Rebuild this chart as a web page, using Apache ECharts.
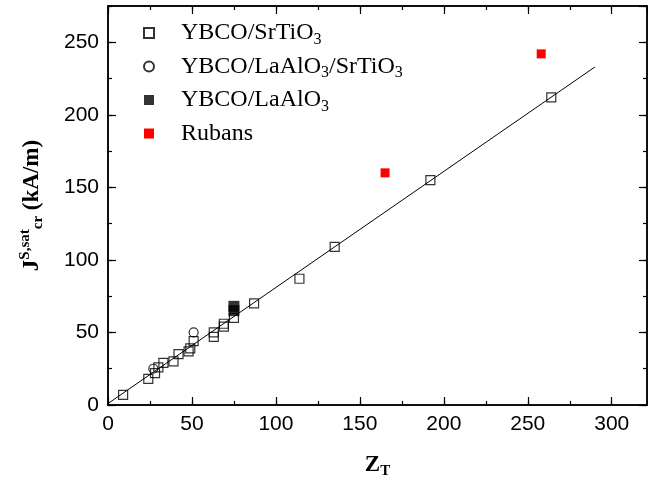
<!DOCTYPE html>
<html>
<head>
<meta charset="utf-8">
<script src="https://cdn.jsdelivr.net/npm/echarts@6/dist/echarts.min.js"></script>
<style>
  html, body { margin: 0; padding: 0; background: #fff; }
  #main { width: 648px; height: 490px; }
</style>
</head>
<body>
<div id="main"></div>
<script>
var chartDom = document.getElementById('main');
var myChart = echarts.init(chartDom);

// 数据：从图上读出来的 (Z_T, J)
var srtio3Pts = [
  [9, 7], [24, 18], [28, 22], [30, 26], [33, 29], [39, 30], [42, 35],
  [48, 37], [49, 39], [51, 44], [63, 47], [63, 50], [69, 54], [69, 56],
  [75, 60], [87, 70], [114, 87], [135, 109], [192, 155], [264, 212]
];
var laalSrtiPts = [[27, 25], [51, 50]];
var laalPts = [[75, 65], [75, 68]];
var rubansPts = [[165, 160], [258, 242]];
var fitLine = [[0, 1], [290, 233]];

var legendNames = ['YBCO/SrTiO3', 'YBCO/LaAlO3/SrTiO3', 'YBCO/LaAlO3', 'Rubans'];
var xTicks = { min: 0, max: 321, major: 50, minor: 25 };
var yTicks = { min: 0, max: 275, major: 50, minor: 25 };

var serif = 'Liberation Serif';
var sans = 'Liberation Sans';
var axisLineStyle = { color: '#000', width: 1.5 };

// 把下标 3 换成富文本
function subFmt(name) {
  return name.replace(/O3/g, 'O{s|3}');
}

function makeAxis(range, pos, interval, tickLen, withLabel) {
  return {
    type: 'value', position: pos, min: range.min, max: range.max, interval: interval,
    axisLine: { show: true, onZero: false, lineStyle: axisLineStyle },
    axisTick: { show: true, inside: true, length: tickLen, lineStyle: { color: '#000', width: 1.2 } },
    axisLabel: withLabel ? {
      show: true, showMaxLabel: false, color: '#000', fontFamily: sans, fontSize: 21, margin: 9
    } : { show: false },
    splitLine: { show: false }
  };
}

var xMain = makeAxis(xTicks, 'bottom', xTicks.major, 8, true);
xMain.name = 'Z{sb|T}';
xMain.nameLocation = 'middle';
xMain.nameGap = 47;
xMain.nameTextStyle = {
  fontFamily: serif, fontWeight: 'bold', fontSize: 23, color: '#000',
  rich: { sb: { fontFamily: serif, fontWeight: 'bold', fontSize: 15, padding: [12, 0, 0, 0] } }
};

var yMain = makeAxis(yTicks, 'left', yTicks.major, 8, true);
yMain.name = 'J{sp|S,sat}{sb|cr} (kA/m)';
yMain.nameLocation = 'middle';
yMain.nameRotate = 90;
yMain.nameGap = 62;
yMain.nameTextStyle = {
  fontFamily: serif, fontWeight: 'bold', fontSize: 23, color: '#000',
  rich: {
    sp: { fontFamily: serif, fontWeight: 'bold', fontSize: 15, padding: [0, 0, 13, 0] },
    sb: { fontFamily: serif, fontWeight: 'bold', fontSize: 15, padding: [13, 0, 0, 0] }
  }
};

var option = {
  backgroundColor: '#fff',
  animation: false,
  grid: { left: 108, top: 6, right: 1, bottom: 85 },
  legend: {
    data: legendNames,
    orient: 'vertical',
    left: 138,
    top: 16,
    itemWidth: 10,
    itemHeight: 10,
    itemGap: 7,
    formatter: subFmt,
    textStyle: {
      fontFamily: serif, fontSize: 24, color: '#000', padding: [0, 0, 0, 22],
      rich: { s: { fontFamily: serif, fontSize: 16, color: '#000', padding: [13, 0, 0, 0] } }
    }
  },
  xAxis: [
    xMain,
    makeAxis(xTicks, 'bottom', xTicks.minor, 4, false),
    makeAxis(xTicks, 'top', xTicks.major, 8, false),
    makeAxis(xTicks, 'top', xTicks.minor, 4, false)
  ],
  yAxis: [
    yMain,
    makeAxis(yTicks, 'left', yTicks.minor, 4, false),
    makeAxis(yTicks, 'right', yTicks.major, 8, false),
    makeAxis(yTicks, 'right', yTicks.minor, 4, false)
  ],
  series: [
    {
      name: 'Fit', type: 'line', data: fitLine, symbol: 'none', silent: true,
      lineStyle: { color: '#000', width: 1 }, z: 1
    },
    {
      name: 'YBCO/SrTiO3', type: 'scatter', data: srtio3Pts, symbol: 'rect', symbolSize: 9,
      itemStyle: { color: 'rgba(0,0,0,0)', borderColor: '#000', borderWidth: 1.2 }, z: 2
    },
    {
      name: 'YBCO/LaAlO3/SrTiO3', type: 'scatter', data: laalSrtiPts, symbol: 'circle', symbolSize: 9,
      itemStyle: { color: 'rgba(0,0,0,0)', borderColor: '#000', borderWidth: 1.2 }, z: 2
    },
    {
      name: 'YBCO/LaAlO3', type: 'scatter', data: laalPts, symbol: 'rect', symbolSize: 11,
      itemStyle: { color: '#000' }, z: 3
    },
    {
      name: 'Rubans', type: 'scatter', data: rubansPts, symbol: 'rect', symbolSize: 9,
      itemStyle: { color: '#ff0000', opacity: 1 }, z: 3
    }
  ]
};

myChart.setOption(option);
</script>
</body>
</html>
